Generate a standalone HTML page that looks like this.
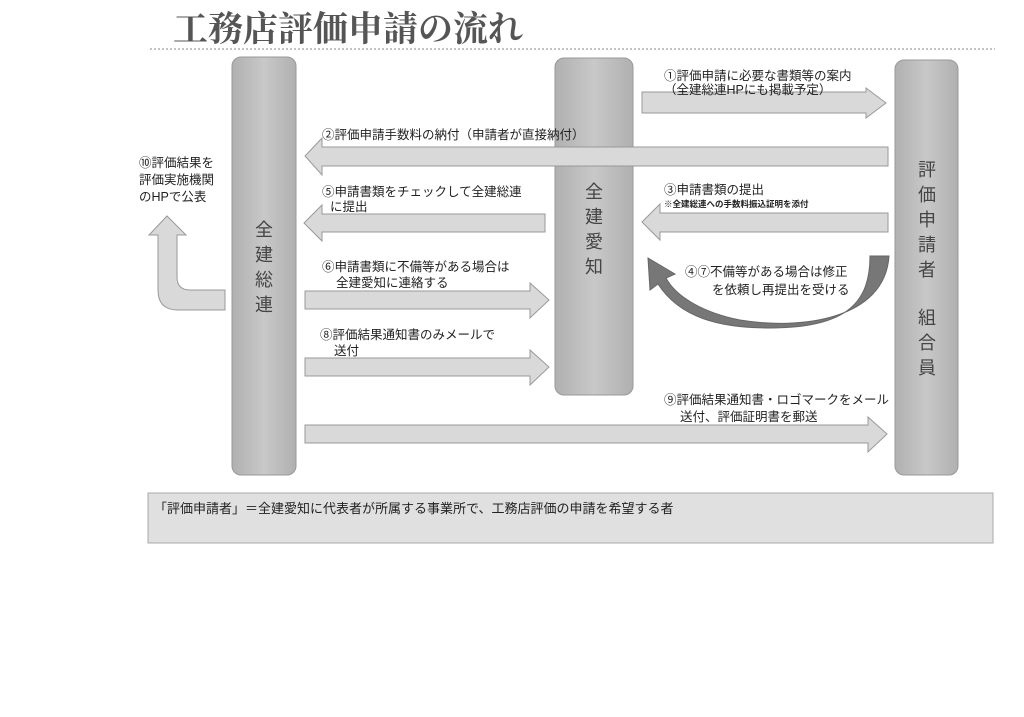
<!DOCTYPE html>
<html><head><meta charset="utf-8"><style>
html,body{margin:0;padding:0;background:#fff;}
svg{display:block;}
text{font-family:"Liberation Sans","Noto Sans CJK JP",sans-serif;fill:#222;}
</style></head><body>
<svg width="1024" height="717" viewBox="0 0 1024 717" xmlns="http://www.w3.org/2000/svg">
<defs>
<linearGradient id="col" x1="0" x2="1" y1="0" y2="0">
<stop offset="0" stop-color="#b0b0b0"/><stop offset="0.5" stop-color="#c8c8c8"/><stop offset="1" stop-color="#b0b0b0"/>
</linearGradient>
</defs>
<text x="173" y="41" style="font-family:'Noto Serif CJK SC','Liberation Serif',serif;fill:#555" font-size="35" font-weight="bold">工務店評価申請の流れ</text>
<line x1="150" y1="49" x2="995" y2="49" stroke="#888" stroke-width="1" stroke-dasharray="2,2"/>

<rect x="232" y="57" width="64" height="418" rx="9" fill="url(#col)" stroke="#999"/>
<rect x="555" y="58" width="78" height="337" rx="9" fill="url(#col)" stroke="#999"/>
<rect x="895" y="60" width="63" height="415" rx="9" fill="url(#col)" stroke="#999"/>
<g font-size="18">
<text x="264" y="236" text-anchor="middle" style="fill:#444">全</text>
<text x="264" y="261" text-anchor="middle" style="fill:#444">建</text>
<text x="264" y="286" text-anchor="middle" style="fill:#444">総</text>
<text x="264" y="311" text-anchor="middle" style="fill:#444">連</text>
<text x="594" y="198" text-anchor="middle" style="fill:#444">全</text>
<text x="594" y="223" text-anchor="middle" style="fill:#444">建</text>
<text x="594" y="248" text-anchor="middle" style="fill:#444">愛</text>
<text x="594" y="273" text-anchor="middle" style="fill:#444">知</text>
<text x="927" y="176" text-anchor="middle" style="fill:#444">評</text>
<text x="927" y="201" text-anchor="middle" style="fill:#444">価</text>
<text x="927" y="226" text-anchor="middle" style="fill:#444">申</text>
<text x="927" y="251" text-anchor="middle" style="fill:#444">請</text>
<text x="927" y="276" text-anchor="middle" style="fill:#444">者</text>
<text x="927" y="324" text-anchor="middle" style="fill:#444">組</text>
<text x="927" y="349" text-anchor="middle" style="fill:#444">合</text>
<text x="927" y="374" text-anchor="middle" style="fill:#444">員</text>
</g>

<g fill="#d9d9d9" stroke="#999" stroke-width="1">
<polygon points="642,92 866,92 866,88 886,103 866,118 866,113 642,113"/>
<polygon points="888,147 322,147 322,138 305,156 322,175 322,166 888,166"/>
<polygon points="888,213 660,213 660,204 642,222 660,240 660,232 888,232"/>
<polygon points="545,214 322,214 322,205 304,223 322,241 322,232 545,232"/>
<polygon points="305,291 530,291 530,283 549,300 530,318 530,309 305,309"/>
<polygon points="305,358 530,358 530,350 549,367 530,385 530,376 305,376"/>
<polygon points="305,425 868,425 868,417 887,434 868,452 868,443 305,443"/>
<path d="M225,290 L190,290 Q177,290 177,277 L177,235 L186,235 L167,216 L149,235 L158,235 L158,290 Q158,310 178,310 L225,310 Z"/>
</g>
<path d="M889,256 C885,320 800,330 740,320 C700,312 675,295 666,278 L675,274 L648,258 L650,290 L658,284 C680,318 720,328 770,328 C850,328 870,300 870,256 Z" fill="#777" stroke="#666"/>

<g font-size="12.5">
<text x="664" y="80">①評価申請に必要な書類等の案内</text>
<text x="664" y="94">（全建総連HPにも掲載予定）</text>
<text x="322" y="139">②評価申請手数料の納付（申請者が直接納付）</text>
<text x="322" y="196">⑤申請書類をチェックして全建総連</text>
<text x="330" y="211">に提出</text>
<text x="664" y="194">③申請書類の提出</text>
<text x="664" y="207" font-size="8.5" font-weight="bold">※全建総連への手数料振込証明を添付</text>
<text x="685" y="276">④⑦不備等がある場合は修正</text>
<text x="712" y="294">を依頼し再提出を受ける</text>
<text x="322" y="271">⑥申請書類に不備等がある場合は</text>
<text x="336" y="287">全建愛知に連絡する</text>
<text x="320" y="339">⑧評価結果通知書のみメールで</text>
<text x="334" y="355">送付</text>
<text x="664" y="404">⑨評価結果通知書・ロゴマークをメール</text>
<text x="680" y="421">送付、評価証明書を郵送</text>
<text x="139" y="167">⑩評価結果を</text>
<text x="139" y="184">評価実施機関</text>
<text x="139" y="201">のHPで公表</text>
</g>

<rect x="148" y="493" width="845" height="50" fill="#e0e0e0" stroke="#aaa"/>
<text x="154" y="513" font-size="13">「評価申請者」＝全建愛知に代表者が所属する事業所で、工務店評価の申請を希望する者</text>
</svg>
</body></html>
